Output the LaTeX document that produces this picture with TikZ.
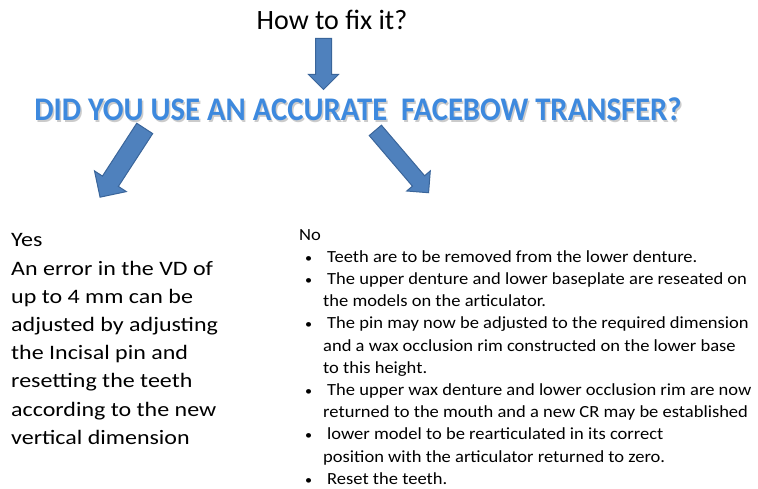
\documentclass[tikz,border=0pt]{standalone}
\usepackage{fontspec}
\setmainfont{Carlito}
\newfontfamily\titlefont[FakeStretch=0.93]{Carlito}
\newfontfamily\yesfont[FakeStretch=1.17]{Carlito}
\newfontfamily\nofont[FakeStretch=1.09]{Carlito}
\usetikzlibrary{shapes.arrows}

\definecolor{arrowblue}{HTML}{4F81BD}
\definecolor{arrowedge}{HTML}{3A659A}
\definecolor{titleblue}{HTML}{3D89DE}

% bullet and hanging indent for the "No" list
\newcommand{\bul}{\makebox[28pt][l]{\hspace*{6pt}{\fontsize{13}{13}\selectfont\textbullet}}}
\newcommand{\hang}{\hspace*{24pt}}

\tikzset{
  blockarrow/.style={single arrow, draw=arrowedge, fill=arrowblue,
    line width=1pt, inner xsep=0pt, anchor=tail, single arrow tip angle=90},
  question/.style={font=\fontsize{28}{30}\selectfont, inner sep=0pt},
  headline/.style={font=\titlefont\fontsize{33}{36}\selectfont\bfseries,
    inner sep=0pt, anchor=base},
  answer/.style={align=left, inner sep=0pt, anchor=north west}
}

\begin{document}
\begin{tikzpicture}[x=1pt, y=1pt]
  \useasboundingbox (0,0) rectangle (758,-489);

  \node[question] (fix) at (332,-20) {How to fix it?};

  % title with a soft shadow
  \node[headline, text=black!45, opacity=0.45] at (359.5,-122.5) {DID YOU USE AN ACCURATE\ \ FACEBOW TRANSFER?};
  \node[headline, text=titleblue] (title) at (358,-121) {DID YOU USE AN ACCURATE\ \ FACEBOW TRANSFER?};

  \node[blockarrow, minimum height=51pt, inner ysep=7.5pt,
        single arrow head extend=7pt, rotate=-90] (down) at (323.5,-38) {};
  \node[blockarrow, minimum height=82pt, inner ysep=9pt,
        single arrow head extend=9.5pt, rotate=-123] (yesarrow) at (145,-128) {};
  \node[blockarrow, minimum height=82pt, inner ysep=7.5pt,
        single arrow head extend=7.5pt, rotate=-49.5] (noarrow) at (375,-130) {};

  \node[answer, font=\yesfont\fontsize{20.5}{28.2}\selectfont] (yes) at (11,-233.5) {%
    Yes\\
    An error in the VD of\\
    up to 4 mm can be\\
    adjusted by adjusting\\
    the Incisal pin and\\
    resetting the teeth\\
    according to the new\\
    vertical dimension};

  \node[answer, font=\nofont\fontsize{17}{22.2}\selectfont] (no) at (299,-229) {%
    No\\
    \bul Teeth are to be removed from the lower denture.\\
    \bul The upper denture and lower baseplate are reseated on\\
    \hang the models on the articulator.\\
    \bul The pin may now be adjusted to the required dimension\\
    \hang and a wax occlusion rim constructed on the lower base\\
    \hang to this height.\\
    \bul The upper wax denture and lower occlusion rim are now\\
    \hang returned to the mouth and a new CR may be established\\
    \bul lower model to be rearticulated in its correct\\
    \hang position with the articulator returned to zero.\\
    \bul Reset the teeth.};
\end{tikzpicture}
\end{document}
